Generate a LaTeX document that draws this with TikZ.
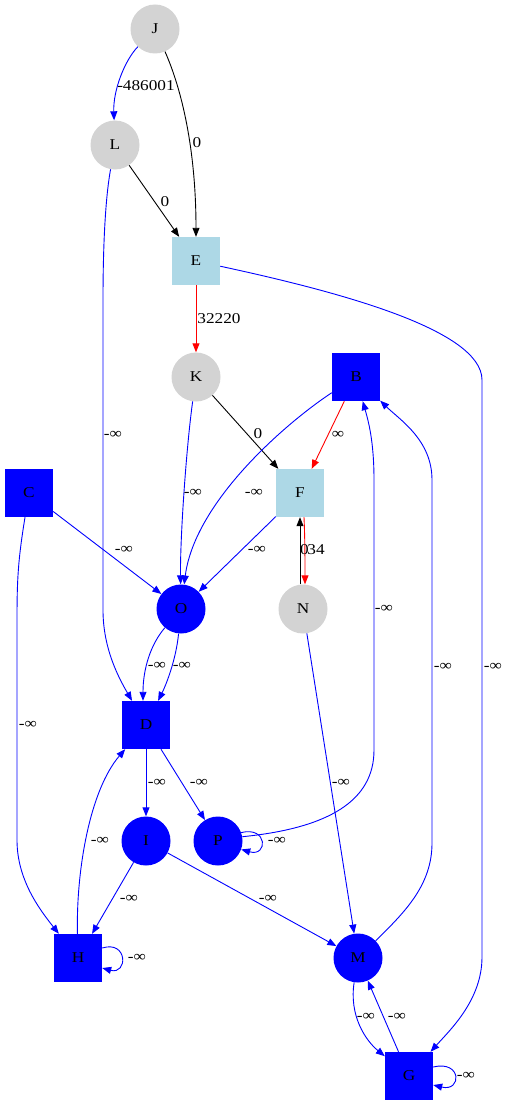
\documentclass[tikz,border=0pt]{standalone}
\usepackage{fontspec}
\setmainfont{Liberation Serif}[FakeStretch=1.15]
\usetikzlibrary{arrows.meta}
\definecolor{lblue}{HTML}{ADD8E6}
\definecolor{lgray}{HTML}{D3D3D3}
\begin{document}
\begin{tikzpicture}[x=1pt,y=-1pt,
  every node/.style={font=\fontsize{15}{17}\selectfont},
  sq/.style={rectangle,minimum size=48pt,inner sep=0pt},
  ci/.style={circle,minimum size=49pt,inner sep=0pt},
  gn/.style={ci,fill=lgray},
  bc/.style={ci,fill=blue},
  bs/.style={sq,fill=blue},
  ls/.style={sq,fill=lblue},
  e/.style={-{Triangle[length=9pt,width=7pt]},line width=0.9pt},
  be/.style={e,blue}, ke/.style={e,black}, re/.style={e,red},
  lbl/.style={inner sep=0pt}]
\useasboundingbox (0,0) rectangle (508,1105);
% nodes
\node[gn] (J) at (155,29) {J};
\node[gn] (L) at (115,145) {L};
\node[ls] (E) at (196,261) {E};
\node[gn] (K) at (196,377) {K};
\node[bs] (B) at (356,377) {B};
\node[ls] (F) at (300,493) {F};
\node[bs] (C) at (29,493) {C};
\node[bc] (O) at (181,609) {O};
\node[gn] (N) at (303,609) {N};
\node[bs] (D) at (146,725) {D};
\node[bc] (I) at (146,841) {I};
\node[bc] (P) at (218,841) {P};
\node[bs] (H) at (78,958) {H};
\node[bc] (M) at (358,958) {M};
\node[bs] (G) at (409,1076) {G};
% edges
\draw[be] (J) .. controls (125,60) and (113,90) .. (L);
\draw[ke] (J) .. controls (182,90) and (196,150) .. (E);
\draw[ke] (L) -- (E);
\draw[be] (L) .. controls (105,200) and (103,250) .. (103,300) -- (103,610) .. controls (103,650) and (120,680) .. (D);
\draw[re] (E) -- (K);
\draw[be] (E) .. controls (340,292) and (482,330) .. (482,380) -- (482,957) .. controls (482,1000) and (450,1030) .. (G);
\draw[ke] (K) -- (F);
\draw[be] (K) .. controls (186,450) and (180,540) .. (O);
\draw[re] (B) -- (F);
\draw[be] (B) .. controls (290,420) and (195,500) .. (O);
\draw[be] (F) -- (O);
\draw[re] ([xshift=4pt]F.south) .. controls (305,540) and (305,560) .. ([xshift=2pt]N.north);
\draw[ke] ([xshift=-3pt]N.north) -- ([xshift=0pt]F.south);
\draw[be] (C) -- (O);
\draw[be] (C) .. controls (18,560) and (17,580) .. (17,620) -- (17,840) .. controls (17,880) and (40,910) .. (H);
\draw[be] (O) .. controls (150,645) and (143,670) .. ([xshift=-3pt]D.north);
\draw[be] (O) .. controls (176,660) and (166,685) .. (D);
\draw[be] (D) -- (I);
\draw[be] (D) -- (P);
\draw[be] (I) -- (H);
\draw[be] (I) -- (M);
\draw[be] (H) .. controls (76,870) and (90,790) .. (D);
\draw[be] (P.20) .. controls (268,826) and (268,857) .. (P.-20);
\draw[be] (P.10) .. controls (330,828) and (374,800) .. (374,750) -- (374,480) .. controls (374,440) and (368,420) .. (B);
\draw[be] (M) .. controls (405,912) and (432,885) .. (432,843) -- (432,480) .. controls (432,440) and (400,420) .. (B);
\draw[be] (N) -- (M);
\draw[be] (M) .. controls (349,1015) and (365,1040) .. (G);
\draw[be] (G) -- (M);
\draw[be] ([yshift=9pt]G.east) .. controls (462,1060) and (462,1092) .. ([yshift=-9pt]G.east);
\draw[be] ([yshift=10pt]H.east) .. controls (128,940) and (128,975) .. ([yshift=-10pt]H.east);
% labels
\node[lbl] (l1) at (146,86) {-486001};
\node[lbl] (l2) at (197,143) {0};
\node[lbl] (l3) at (165,202) {0};
\node[lbl] (l4) at (219,319) {32220};
\node[lbl] (l5) at (258,434) {0};
\node[lbl] (l6) at (338,435) {∞};
\node[lbl] (l7) at (193,493) {-∞};
\node[lbl] (l8) at (254,493) {-∞};
\node[lbl] (l9) at (257,550) {-∞};
\node[lbl] (l10) at (304.5,550) {0};
\node[lbl] (l11) at (316,550) {34};
\node[lbl] (l12) at (124,550) {-∞};
\node[lbl] (l13) at (28,725) {-∞};
\node[lbl] (l14) at (113,435) {-∞};
\node[lbl] (l15) at (493,667) {-∞};
\node[lbl] (l16) at (157,666) {-∞};
\node[lbl] (l17) at (182,666) {-∞};
\node[lbl] (l18) at (157,783) {-∞};
\node[lbl] (l19) at (199,783) {-∞};
\node[lbl] (l20) at (384,609) {-∞};
\node[lbl] (l21) at (277,841) {-∞};
\node[lbl] (l22) at (100,841) {-∞};
\node[lbl] (l23) at (129,899) {-∞};
\node[lbl] (l24) at (268,899) {-∞};
\node[lbl] (l25) at (137,958) {-∞};
\node[lbl] (l26) at (341,783) {-∞};
\node[lbl] (l27) at (443,667) {-∞};
\node[lbl] (l28) at (366,1017) {-∞};
\node[lbl] (l29) at (397,1017) {-∞};
\node[lbl] (l30) at (466,1076) {-∞};
\end{tikzpicture}
\end{document}
